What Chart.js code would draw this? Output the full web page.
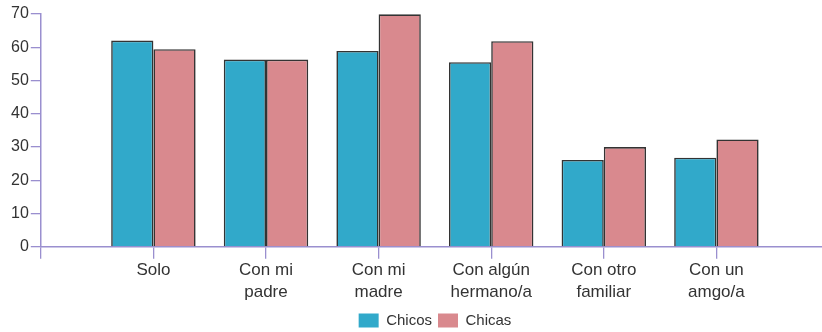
<!DOCTYPE html>
<html>
<head>
<meta charset="utf-8">
<script src="https://cdn.jsdelivr.net/npm/chart.js@4/dist/chart.umd.min.js"></script>
<style>
html,body{margin:0;padding:0;background:#fff;overflow:hidden;width:822px;height:332px;}
#wrap{width:829px;height:332px;position:relative;}
</style>
</head>
<body>
<div id="wrap"><canvas id="c"></canvas></div>
<script>
const categories = ['Solo', ['Con mi','padre'], ['Con mi','madre'], ['Con algún','hermano/a'], ['Con otro','familiar'], ['Con un','amgo/a']];
const chicos = [62, 56.3, 58.9, 55.5, 26.1, 26.8];
const chicas = [59.4, 56.3, 69.9, 61.8, 30, 32.3];
const seriesNames = ['Chicos', 'Chicas'];
const yTicks = [0, 10, 20, 30, 40, 50, 60, 70];

const labels = [''].concat(categories, ['']);
const pad = arr => [null].concat(arr, [null]);
const axisColor = '#9a8fcf';
const textColor = '#333333';
const fontFam = '"Liberation Sans", Arial, sans-serif';

const shiftLegend = {
  id: 'shiftLegend',
  afterLayout(chart) {
    const l = chart.legend;
    if (l) { l.left += 16; l.right += 16; }
  }
};

new Chart(document.getElementById('c'), {
  type: 'bar',
  data: {
    labels: labels,
    datasets: [
      {label: seriesNames[0], data: pad(chicos), backgroundColor: '#31a9ca', borderColor: '#333333', borderWidth: 1.6, categoryPercentage: 0.75, barPercentage: 1},
      {label: seriesNames[1], data: pad(chicas), backgroundColor: '#d9898e', borderColor: '#333333', borderWidth: 1.6, categoryPercentage: 0.75, barPercentage: 1}
    ]
  },
  plugins: [shiftLegend],
  options: {
    responsive: true,
    maintainAspectRatio: false,
    animation: false,
    layout: {padding: {top: 14, right: 0, left: 9, bottom: -6}},
    plugins: {
      tooltip: {enabled: false},
      legend: {
        position: 'bottom',
        labels: {
          boxWidth: 20, boxHeight: 14, padding: 6,
          color: textColor,
          font: {family: fontFam, size: 15},
          generateLabels: (chart) => Chart.defaults.plugins.legend.labels.generateLabels(chart).map(l => Object.assign(l, {lineWidth: 0}))
        }
      }
    },
    scales: {
      x: {
        offset: false,
        afterFit: (s) => { s.height += 4; },
        grid: {offset: false, drawOnChartArea: false, drawTicks: true, tickLength: 12, color: axisColor, lineWidth: 1.3},
        border: {color: axisColor, width: 1.5},
        ticks: {color: textColor, font: {family: fontFam, size: 17, lineHeight: 1.3}, padding: 0, maxRotation: 0, autoSkip: false}
      },
      y: {
        min: 0, max: 70,
        afterBuildTicks: (s) => { s.ticks = yTicks.map(v => ({value: v})); },
        grid: {drawOnChartArea: false, drawTicks: true, tickLength: 10, color: axisColor, lineWidth: 1.3},
        border: {color: axisColor, width: 1.5},
        ticks: {color: textColor, font: {family: fontFam, size: 16}, padding: 2}
      }
    }
  }
});
</script>
</body>
</html>
